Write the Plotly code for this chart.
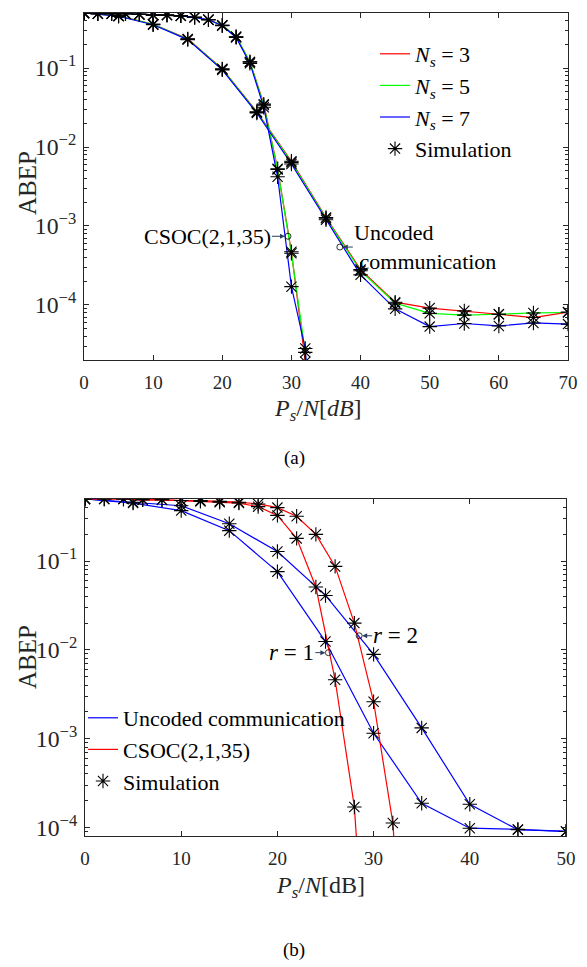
import numpy as np
import plotly.graph_objects as go

FONT = "Liberation Serif"
AX = "#262626"
RED, GREEN, BLUE = "#ff0000", "#00ff00", "#0000ff"

# ---------------- panel (a) data ----------------
a_unc_x = [0, 5, 10, 15, 20, 25, 30, 35, 40, 45, 50, 55, 60, 65, 70]
a_unc_ns3 = [0.5, 0.46, 0.36, 0.235, 0.098, 0.028, 0.0066, 0.00128, 2.8e-4, 1.08e-4, 9.1e-5, 8.4e-5, 7.6e-5, 6.9e-5, 8.1e-5]
a_unc_ns5 = [0.5, 0.46, 0.36, 0.233, 0.097, 0.0275, 0.0064, 0.00125, 2.7e-4, 1.05e-4, 7.8e-5, 7.4e-5, 7.6e-5, 7.9e-5, 8.0e-5]
a_unc_ns7 = [0.5, 0.455, 0.355, 0.23, 0.095, 0.027, 0.0061, 0.0012, 2.4e-4, 8.9e-5, 5.3e-5, 5.8e-5, 5.4e-5, 5.9e-5, 5.7e-5]

a_csoc_x = [0, 2, 4, 6, 8, 10, 12, 14, 16, 18, 20, 22, 24, 26, 28, 30, 32, 34]
a_csoc_ns3 = [0.5, 0.49, 0.49, 0.49, 0.48, 0.47, 0.47, 0.46, 0.44, 0.41, 0.35, 0.25, 0.12, 0.035, 0.0053, 4.7e-4, 1.9e-5, 1e-7]
a_csoc_ns5 = [0.5, 0.49, 0.49, 0.49, 0.48, 0.47, 0.47, 0.46, 0.44, 0.41, 0.35, 0.25, 0.12, 0.034, 0.0052, 4.5e-4, 2.5e-5, 1e-7]
a_csoc_ns7 = [0.5, 0.49, 0.49, 0.49, 0.48, 0.47, 0.47, 0.46, 0.44, 0.41, 0.345, 0.245, 0.115, 0.032, 0.0042, 1.7e-4, 2.8e-5, 1e-7]

a_labels = ["<i>N</i><sub><i>s</i></sub> = 3", "<i>N</i><sub><i>s</i></sub> = 5", "<i>N</i><sub><i>s</i></sub> = 7"]
a_xticks = [0, 10, 20, 30, 40, 50, 60, 70]
a_ann_x = [29.5, 37.0]
a_ann_y = [7.4e-4, 5.4e-4]
a_ann_text = ["CSOC(2,1,35)", "Uncoded<br> communication"]

# ---------------- panel (b) data ----------------
b_unc_x = [0, 5, 10, 15, 20, 25, 30, 35, 40, 45, 50]
b_unc_r1 = [0.5, 0.45, 0.37, 0.22, 0.076, 0.0124, 1.15e-3, 1.87e-4, 9.8e-5, 9.5e-5, 9.0e-5]
b_unc_r2 = [0.5, 0.46, 0.42, 0.263, 0.128, 0.041, 8.9e-3, 1.32e-3, 1.82e-4, 9.4e-5, 9.0e-5]

b_csoc_r1_x = [0, 2, 4, 6, 8, 10, 12, 14, 16, 18, 20, 22, 24, 26, 28, 30]
b_csoc_r1 = [0.5, 0.5, 0.5, 0.49, 0.49, 0.48, 0.47, 0.46, 0.45, 0.41, 0.327, 0.18, 0.051, 4.6e-3, 1.7e-4, 1e-7]
b_csoc_r2_x = [0, 2, 4, 6, 8, 10, 12, 14, 16, 18, 20, 22, 24, 26, 28, 30, 32, 34]
b_csoc_r2 = [0.5, 0.5, 0.5, 0.49, 0.49, 0.48, 0.48, 0.47, 0.46, 0.44, 0.40, 0.32, 0.20, 0.087, 0.020, 2.6e-3, 1.12e-4, 1e-7]

b_xticks = [0, 10, 20, 30, 40, 50]
b_ann_x = [25.3, 28.5]
b_ann_y = [9.3e-3, 1.44e-2]
b_ann_text = ["<i>r</i> = 1", "<i>r</i> = 2"]

fig = go.Figure()

def line(x, y, color, name, xa, ya, legend, show, rank):
    fig.add_trace(go.Scatter(x=x, y=y, mode="lines", line=dict(color=color, width=1.2),
                             name=name, showlegend=show, legend=legend, legendrank=rank,
                             xaxis=xa, yaxis=ya, hoverinfo="skip"))

def sim(x, y, xa, ya, legend, show, rank):
    fig.add_trace(go.Scatter(x=x, y=y, mode="markers", name="Simulation",
                             marker=dict(symbol="asterisk-open", size=12, color="black",
                                         line=dict(color="black", width=1.1)),
                             showlegend=show, legend=legend, legendrank=rank,
                             xaxis=xa, yaxis=ya, hoverinfo="skip"))

# panel (a) lines
for ys_u, ys_c, col, lab, rk in [(a_unc_ns3, a_csoc_ns3, RED, a_labels[0], 1),
                                  (a_unc_ns5, a_csoc_ns5, GREEN, a_labels[1], 2),
                                  (a_unc_ns7, a_csoc_ns7, BLUE, a_labels[2], 3)]:
    line(a_unc_x, ys_u, col, lab, "x", "y", "legend", True, rk)
    line(a_csoc_x, ys_c, col, lab, "x", "y", "legend", False, rk)
first = True
for ys_u, ys_c in [(a_unc_ns3, a_csoc_ns3), (a_unc_ns5, a_csoc_ns5), (a_unc_ns7, a_csoc_ns7)]:
    sim(a_unc_x, ys_u, "x", "y", "legend", first, 4)
    first = False
    sim(a_csoc_x, ys_c, "x", "y", "legend", False, 4)

fig.add_trace(go.Scatter(x=a_ann_x, y=a_ann_y, mode="markers", showlegend=False,
                         marker=dict(symbol="circle-open", size=6, color="black", line=dict(width=0.8)),
                         xaxis="x", yaxis="y", hoverinfo="skip"))

# panel (b)
line(b_unc_x, b_unc_r1, BLUE, "Uncoded communication", "x2", "y2", "legend2", True, 1)
line(b_unc_x, b_unc_r2, BLUE, "Uncoded communication", "x2", "y2", "legend2", False, 1)
line(b_csoc_r1_x, b_csoc_r1, RED, "CSOC(2,1,35)", "x2", "y2", "legend2", True, 2)
line(b_csoc_r2_x, b_csoc_r2, RED, "CSOC(2,1,35)", "x2", "y2", "legend2", False, 2)
sim(b_unc_x, b_unc_r1, "x2", "y2", "legend2", True, 3)
sim(b_unc_x, b_unc_r2, "x2", "y2", "legend2", False, 3)
sim(b_csoc_r1_x, b_csoc_r1, "x2", "y2", "legend2", False, 3)
sim(b_csoc_r2_x, b_csoc_r2, "x2", "y2", "legend2", False, 3)
fig.add_trace(go.Scatter(x=b_ann_x, y=b_ann_y, mode="markers", showlegend=False,
                         marker=dict(symbol="circle-open", size=6, color="black", line=dict(width=0.8)),
                         xaxis="x2", yaxis="y2", hoverinfo="skip"))

# the page body has an 8px margin: the figure is drawn at (8, 8)
OFF = 8
W, H = 587 - OFF, 967 - OFF
def px_x(p): return (p - OFF) / W
def px_y(p): return 1 - (p - OFF) / H

common_x = dict(showline=True, linecolor=AX, linewidth=1, mirror="allticks", ticks="inside",
                ticklen=5, tickcolor=AX, showgrid=False, zeroline=False, automargin=False,
                ticklabelstandoff=5,
                tickfont=dict(family=FONT, size=19, color=AX))
common_y = dict(type="log", showline=True, linecolor=AX, linewidth=1, mirror="allticks",
                ticks="inside", ticklen=5, tickcolor=AX, showgrid=False, zeroline=False,
                dtick=1, exponentformat="power", automargin=False, ticklabelstandoff=3,
                minor=dict(ticks="inside", ticklen=3, tickcolor=AX, showgrid=False),
                tickfont=dict(family=FONT, size=19, color=AX))

fig.update_layout(
    width=W, height=H, autosize=False,
    margin=dict(l=0, r=0, t=0, b=0, autoexpand=False),
    paper_bgcolor="white", plot_bgcolor="white",
    font=dict(family=FONT, color="black"),
    xaxis=dict(domain=[px_x(84), px_x(568)], range=[0, 70], tickvals=a_xticks, anchor="y", **common_x),
    yaxis=dict(domain=[px_y(360), px_y(13)], range=[np.log10(2e-5), np.log10(0.5)], anchor="x", **common_y),
    xaxis2=dict(domain=[px_x(85), px_x(566)], range=[0, 50], tickvals=b_xticks, anchor="y2", **common_x),
    yaxis2=dict(domain=[px_y(836), px_y(499)], range=[np.log10(8e-5), np.log10(0.5)], anchor="x2", **common_y),
    legend=dict(x=px_x(375), y=px_y(33), xanchor="left", yanchor="top", bgcolor="rgba(0,0,0,0)",
                font=dict(family=FONT, size=22, color="black"), itemwidth=30, tracegroupgap=0),
    legend2=dict(x=px_x(83), y=px_y(697), xanchor="left", yanchor="top", bgcolor="rgba(0,0,0,0)",
                 font=dict(family=FONT, size=22, color="black"), itemwidth=30, tracegroupgap=0),
)

anns = []
for yc in [183, 657]:
    anns.append(dict(text="ABEP", x=px_x(27), y=px_y(yc), xref="paper", yref="paper", showarrow=False,
                     xanchor="center", yanchor="middle",
                     textangle=-90, font=dict(family=FONT, size=25, color=AX)))
anns.append(dict(text="<i>P</i><sub><i>s</i></sub>/<i>N</i>[<i>dB</i>]", x=px_x(318), y=px_y(410),
                 xref="paper", yref="paper", showarrow=False, xanchor="center", yanchor="middle",
                 font=dict(family=FONT, size=24, color=AX)))
anns.append(dict(text="<i>P</i><sub><i>s</i></sub>/<i>N</i>[dB]", x=px_x(320), y=px_y(887),
                 xref="paper", yref="paper", showarrow=False, xanchor="center", yanchor="middle",
                 font=dict(family=FONT, size=24, color=AX)))
anns.append(dict(text="(a)", x=px_x(294), y=px_y(458), xref="paper", yref="paper", showarrow=False,
                 xanchor="center", yanchor="middle", font=dict(family=FONT, size=19, color="black")))
anns.append(dict(text="(b)", x=px_x(294), y=px_y(950), xref="paper", yref="paper", showarrow=False,
                 xanchor="center", yanchor="middle", font=dict(family=FONT, size=19, color="black")))
anns.append(dict(text=a_ann_text[0], x=a_ann_x[0], y=np.log10(a_ann_y[0]), xref="x", yref="y",
                 showarrow=True, ax=-16, ay=0, xanchor="right", yanchor="middle", arrowhead=2, arrowsize=1,
                 arrowwidth=1, standoff=3, borderpad=0, font=dict(family=FONT, size=22, color="black")))
anns.append(dict(text=a_ann_text[1], x=a_ann_x[1], y=np.log10(a_ann_y[1]), xref="x", yref="y",
                 showarrow=True, ax=13, ay=0, xanchor="left", yanchor="middle", align="left",
                 arrowhead=2, arrowsize=1, arrowwidth=1, standoff=3, borderpad=0,
                 font=dict(family=FONT, size=22, color="black")))
anns.append(dict(text=b_ann_text[0], x=b_ann_x[0], y=np.log10(b_ann_y[0]), xref="x2", yref="y2",
                 showarrow=True, ax=-13, ay=0, xanchor="right", yanchor="middle", arrowhead=2, arrowsize=1,
                 arrowwidth=1, standoff=3, borderpad=0, font=dict(family=FONT, size=23, color="black")))
anns.append(dict(text=b_ann_text[1], x=b_ann_x[1], y=np.log10(b_ann_y[1]), xref="x2", yref="y2",
                 showarrow=True, ax=13, ay=0, xanchor="left", yanchor="middle", arrowhead=2, arrowsize=1,
                 arrowwidth=1, standoff=3, borderpad=0, font=dict(family=FONT, size=23, color="black")))
fig.update_layout(annotations=anns)

fig.write_html("out.html")
